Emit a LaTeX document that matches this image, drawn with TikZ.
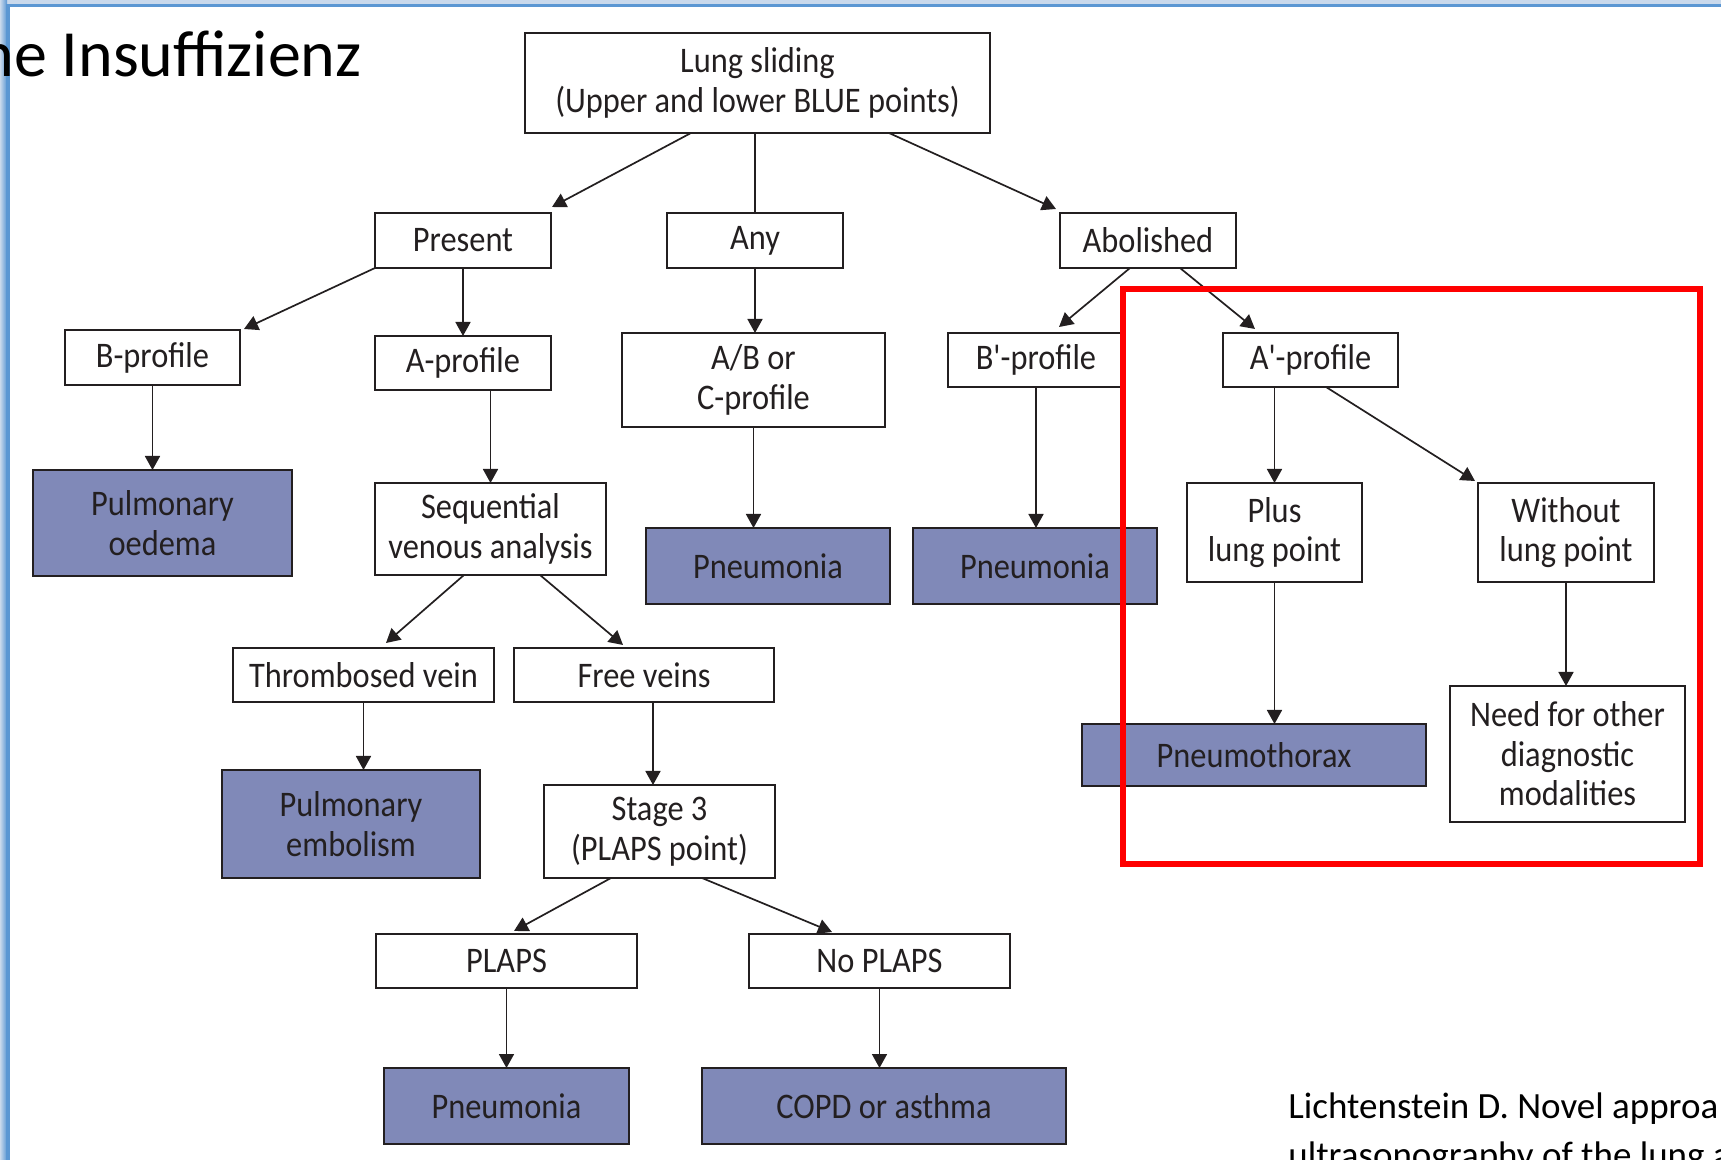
\documentclass[tikz,border=0pt]{standalone}
\usepackage{fontspec}
\setmainfont{Carlito}
\newfontfamily\boxfont{Carlito}[FakeStretch=0.9]
\usetikzlibrary{arrows.meta,calc}
\definecolor{fillc}{HTML}{8089B8}
\definecolor{txt}{HTML}{231F20}
\definecolor{frameblue}{HTML}{5B97D3}
\definecolor{framelight}{HTML}{C9D9EC}
\begin{document}
\begin{tikzpicture}[x=0.5pt,y=-0.5pt,
  wbox/.style={draw=txt, line width=0.9pt, fill=white, inner sep=0pt, outer sep=0pt, align=center,
    font=\boxfont\fontsize{18}{19.8}\selectfont, text=txt},
  fbox/.style={wbox, fill=fillc},
  arr/.style={draw=txt, line width=0.85pt, -{Triangle[length=7pt,width=7.5pt]}},
  ln/.style={draw=txt, line width=0.85pt}]
\useasboundingbox (0,0) rectangle (1721,1160);
\fill[white] (0,0) rectangle (1721,1160);

% slide frame
\fill[framelight] (0,0) rectangle (1721,4);
\fill[frameblue] (7,4) rectangle (1721,7);
\shade[left color=framelight, right color=frameblue] (0,0) rectangle (7,1160);
\fill[frameblue] (6,4) rectangle (10,1160);

% title and citation
\node[anchor=base west, inner sep=0pt, font=\fontsize{33}{38}\selectfont] (title) at (-21,77) {ne Insuffizienz};
\node[anchor=base west, inner sep=0pt, font=\fontsize{18.5}{24}\selectfont] (cite1) at (1288,1118) {Lichtenstein D. Novel approa};
\node[anchor=base west, inner sep=0pt, font=\fontsize{18.5}{24}\selectfont] (cite2) at (1288,1167) {ultrasonography of the lung a};

% boxes
\node[wbox, minimum width=232.5pt, minimum height=50pt] (ls) at (757.5,83) {Lung sliding\\(Upper and lower BLUE points)};
\node[wbox, minimum width=88pt, minimum height=27.5pt] (present) at (463,240.5) {Present};
\node[wbox, minimum width=88pt, minimum height=27.5pt] (any) at (755,240.5) {Any};
\node[wbox, minimum width=88pt, minimum height=27.5pt] (abolished) at (1148,240.5) {Abolished};
\node[wbox, minimum width=87.5pt, minimum height=27.5pt] (bprof) at (152.5,357.5) {B-profile};
\node[wbox, minimum width=88pt, minimum height=27pt] (aprof) at (463,363) {A-profile};
\node[wbox, minimum width=131.5pt, minimum height=47pt] (abc) at (753.5,380) {A/B or\\C-profile};
\node[wbox, minimum width=88pt, minimum height=27pt] (bpprof) at (1036,360) {B'-profile};
\node[wbox, minimum width=87.5pt, minimum height=27pt] (approf) at (1310.5,360) {A'-profile};
\node[fbox, minimum width=129.5pt, minimum height=53pt] (oedema) at (162.5,523) {Pulmonary\\oedema};
\node[wbox, minimum width=115.5pt, minimum height=46pt] (seq) at (490.5,529) {Sequential\\venous analysis};
\node[fbox, minimum width=122pt, minimum height=38pt] (pneuAny) at (768,566) {Pneumonia};
\node[fbox, minimum width=122pt, minimum height=38pt] (pneuB) at (1035,566) {Pneumonia};
\node[wbox, minimum width=87.5pt, minimum height=49.5pt] (plus) at (1274.5,532.5) {Plus\\lung point};
\node[wbox, minimum width=88pt, minimum height=49.5pt] (without) at (1566,532.5) {Without\\lung point};
\node[wbox, minimum width=130.5pt, minimum height=27pt] (thromb) at (363.5,675) {Thrombosed vein};
\node[wbox, minimum width=130pt, minimum height=27pt] (free) at (644,675) {Free veins};
\node[fbox, minimum width=172pt, minimum height=31pt] (pthorax) at (1254,755) {Pneumothorax};
\node[wbox, minimum width=117.5pt, minimum height=68pt] (need) at (1567.5,754) {Need for other\\diagnostic\\modalities};
\node[fbox, minimum width=129pt, minimum height=54pt] (embol) at (351,824) {Pulmonary\\embolism};
\node[wbox, minimum width=115.5pt, minimum height=46.5pt] (stage3) at (659.5,831.5) {Stage 3\\(PLAPS point)};
\node[wbox, minimum width=130.5pt, minimum height=27pt] (plaps) at (506.5,961) {PLAPS};
\node[wbox, minimum width=130.5pt, minimum height=27pt] (noplaps) at (879.5,961) {No PLAPS};
\node[fbox, minimum width=122.5pt, minimum height=38pt] (pneuBot) at (506.5,1106) {Pneumonia};
\node[fbox, minimum width=182pt, minimum height=38pt] (copd) at (884,1106) {COPD or asthma};

% connectors
\draw[arr] ($(ls.south west)+(166,0)$) -- ($(present.north east)+(1,-6)$);
\draw[ln] (any.north |- ls.south) -- (any.north);
\draw[arr] ($(ls.south west)+(364,0)$) -- ($(abolished.north west)+(-4,-4)$);
\draw[arr] (present.south west) -- ($(bprof.north east)+(4,-1)$);
\draw[arr] (present.south) -- (aprof.north);
\draw[arr] (any.south) -- (any.south |- abc.north);
\draw[arr] ($(abolished.south west)+(70,0)$) -- ($(bpprof.north west)+(111,-6)$);
\draw[arr] ($(abolished.south west)+(120,0)$) -- ($(approf.north west)+(32,-4)$);
\draw[arr] (bprof.south) -- (bprof.south |- oedema.north);
\draw[arr] (seq.north |- aprof.south) -- (seq.north);
\draw[arr] (abc.south) -- (abc.south |- pneuAny.north);
\draw[arr] (bpprof.south) -- (bpprof.south |- pneuB.north);
\draw[arr] (plus.north |- approf.south) -- (plus.north);
\draw[arr] ($(approf.south west)+(103,0)$) -- ($(without.north west)+(-3,-2)$);
\draw[arr] (plus.south) -- (plus.south |- pthorax.north);
\draw[arr] (without.south) -- (without.south |- need.north);
\draw[arr] ($(seq.south west)+(89,0)$) -- ($(thromb.north west)+(153,-5)$);
\draw[arr] ($(seq.south west)+(165,0)$) -- ($(free.north west)+(109,-3)$);
\draw[arr] (thromb.south) -- (thromb.south |- embol.north);
\coordinate (fs) at ($(free.south west)+(139,0)$);
\draw[arr] (fs) -- (fs |- stage3.north);
\draw[arr] ($(stage3.south west)+(67,0)$) -- ($(plaps.north west)+(138,-3)$);
\draw[arr] ($(stage3.south west)+(158,0)$) -- ($(noplaps.north west)+(83,-2)$);
\draw[arr] (plaps.south) -- (plaps.south |- pneuBot.north);
\draw[arr] (noplaps.south) -- (noplaps.south |- copd.north);

% red highlight
\draw[red, line width=2.75pt] (1123,289) rectangle (1700,864);
\end{tikzpicture}
\end{document}
